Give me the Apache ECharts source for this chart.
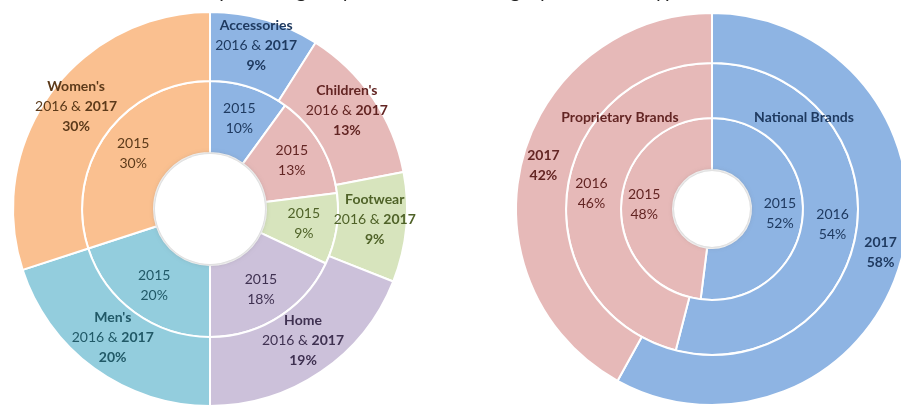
<!DOCTYPE html>
<html>
<head>
<meta charset="utf-8">
<script src="https://cdn.jsdelivr.net/npm/echarts@6/dist/echarts.min.js"></script>
<style>
html,body{margin:0;padding:0;background:#fff;}
#chart{width:901px;height:407px;}
</style>
</head>
<body>
<div id="chart"></div>
<script>
// ---- data ----
const categoryNames = ["Accessories", "Children's", "Footwear", "Home", "Men's", "Women's"];
const category2015 = [10, 13, 9, 18, 20, 30];
const category2016and2017 = [9, 13, 9, 19, 20, 30];

const brandNames = ["National Brands", "Proprietary Brands"];
const brand2015 = [52, 48];
const brand2016 = [54, 46];
const brand2017 = [58, 42];

const headerText = "Exhibit: cumulative sales percentages by merchandise category and brand type over the last three fiscal years";

// ---- styles ----
const FONT = 'Lato, "Open Sans", sans-serif';
const catColors = ['#8EB4E3', '#E6B9B8', '#D7E4BD', '#CCC1DA', '#93CDDD', '#FAC090'];
const catTextColors = ['#1F3A60', '#632523', '#4F6228', '#3F3151', '#215967', '#5C3A1A'];
const brandColors = ['#8EB4E3', '#E6B9B8'];
const brandTextColors = ['#1F3A60', '#632523'];

function mk(names, values, colors, textColors) {
  return names.map((n, i) => ({
    name: n, value: values[i],
    itemStyle: { color: colors[i] },
    label: { color: textColors[i] }
  }));
}

const rich = {
  n: { fontFamily: FONT, fontSize: 14, fontWeight: 'bold', lineHeight: 20 },
  a: { fontFamily: FONT, fontSize: 14, lineHeight: 20 },
  b: { fontFamily: FONT, fontSize: 14, fontWeight: 'bold', lineHeight: 20 }
};

const basePie = {
  type: 'pie',
  startAngle: 90,
  clockwise: true,
  avoidLabelOverlap: false,
  silent: true,
  emphasis: { disabled: true },
  labelLine: { show: false },
  labelLayout: { hideOverlap: false },
  itemStyle: { borderColor: '#ffffff', borderWidth: 2 },
  label: { show: true, position: 'inside', fontFamily: FONT, fontSize: 14, lineHeight: 20, rich: rich }
};

const holeShadow = (cx, cy, r) => ({
  type: 'circle', shape: { cx: cx, cy: cy, r: r }, z: 50,
  style: { fill: '#ffffff', shadowBlur: 5, shadowColor: 'rgba(120,120,120,0.55)' }
});

const chart = echarts.init(document.getElementById('chart'), null, { renderer: 'canvas' });
chart.setOption({
  animation: false,
  backgroundColor: '#ffffff',
  graphic: [
    { type: 'text', left: 0, top: -18, style: { text: headerText, font: '20px ' + FONT, fill: '#222' } },
    holeShadow(210, 209, 55),
    holeShadow(712, 209, 38),
    { type: 'text', x: 620, y: 117, style: { text: brandNames[1], font: 'bold 14px ' + FONT, fill: brandTextColors[1], align: 'center', verticalAlign: 'middle' }, z: 100 },
    { type: 'text', x: 804, y: 117, style: { text: brandNames[0], font: 'bold 14px ' + FONT, fill: brandTextColors[0], align: 'center', verticalAlign: 'middle' }, z: 100 }
  ],
  series: [
    Object.assign({}, basePie, {
      name: '2015', center: [210, 209], radius: [56, 128],
      data: mk(categoryNames, category2015, catColors, catTextColors),
      label: Object.assign({}, basePie.label, {
        formatter: p => '{a|2015}\n{a|' + p.value + '%}'
      })
    }),
    Object.assign({}, basePie, {
      name: '2016 & 2017', center: [210, 209], radius: [128, 197],
      data: mk(categoryNames, category2016and2017, catColors, catTextColors),
      label: Object.assign({}, basePie.label, {
        offset: [0, -5],
        formatter: p => '{n|' + p.name + '}\n{a|2016 & }{b|2017}\n{b|' + p.value + '%}'
      })
    }),
    Object.assign({}, basePie, {
      name: '2015', center: [712, 209], radius: [39, 91],
      data: mk(brandNames, brand2015, brandColors, brandTextColors),
      label: Object.assign({}, basePie.label, {
        formatter: p => '{a|2015}\n{a|' + p.value + '%}'
      })
    }),
    Object.assign({}, basePie, {
      name: '2016', center: [712, 209], radius: [91, 146],
      data: mk(brandNames, brand2016, brandColors, brandTextColors),
      label: Object.assign({}, basePie.label, {
        formatter: p => '{a|2016}\n{a|' + p.value + '%}'
      })
    }),
    Object.assign({}, basePie, {
      name: '2017', center: [712, 209], radius: [146, 196],
      data: mk(brandNames, brand2017, brandColors, brandTextColors),
      label: Object.assign({}, basePie.label, {
        formatter: p => '{b|2017}\n{b|' + p.value + '%}'
      })
    })
  ]
});
</script>
</body>
</html>
